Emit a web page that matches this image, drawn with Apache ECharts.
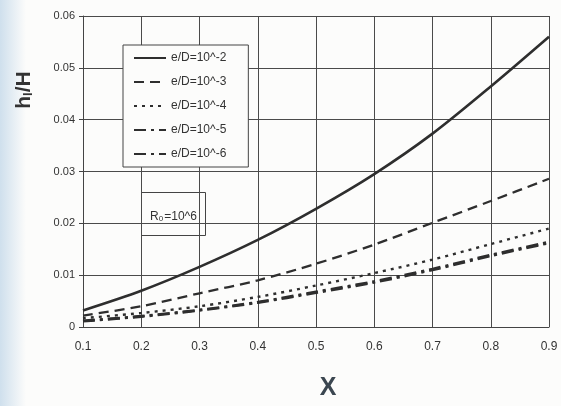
<!DOCTYPE html>
<html>
<head>
<meta charset="utf-8">
<script src="https://cdn.jsdelivr.net/npm/echarts@6/dist/echarts.min.js"></script>
<style>
  html, body { margin: 0; padding: 0; background: #fcfcfb; }
  #chart { width: 561px; height: 406px; }
</style>
</head>
<body>
<div id="chart"></div>
<script>
// Relative head loss h_l/H against X for several relative roughness values (Re = 10^6)
const xValues = [0.1, 0.2, 0.3, 0.4, 0.5, 0.6, 0.7, 0.8, 0.9];
const seriesNames = ['e/D=10^-2', 'e/D=10^-3', 'e/D=10^-4', 'e/D=10^-5', 'e/D=10^-6'];
const rough2 = [0.0032, 0.0070, 0.0116, 0.0168, 0.0228, 0.0295, 0.0373, 0.0464, 0.0560];
const rough3 = [0.0022, 0.0040, 0.0065, 0.0090, 0.0122, 0.0159, 0.0201, 0.0243, 0.0286];
const rough4 = [0.0017, 0.0027, 0.0040, 0.0058, 0.0080, 0.0104, 0.0130, 0.0160, 0.0190];
const rough5 = [0.0012, 0.0021, 0.0033, 0.0048, 0.0068, 0.0088, 0.0112, 0.0139, 0.0164];
const rough6 = [0.0011, 0.0020, 0.0032, 0.0047, 0.0066, 0.0086, 0.0110, 0.0137, 0.0162];
const yTicks = [0, 0.01, 0.02, 0.03, 0.04, 0.05, 0.06];
const reynoldsLabel = '{n|R}{s|0}{n|=10^6}';

const allValues = [rough2, rough3, rough4, rough5, rough6];
const dashStyles = ['solid', [10, 6], [3, 5], [12, 5, 3, 5], [12, 5, 3, 5]];
const widths = [2.6, 2.3, 2.4, 2.6, 2.6];
const ink = '#2e2e2e';
const font = 'Liberation Sans, Arial, sans-serif';

const chart = echarts.init(document.getElementById('chart'), null, { renderer: 'canvas' });

const series = seriesNames.map((name, i) => ({
  name: name,
  type: 'line',
  data: xValues.map((x, j) => [x, allValues[i][j]]),
  symbol: 'none',
  smooth: 0.3,
  lineStyle: { color: ink, width: widths[i], type: dashStyles[i] },
  itemStyle: { color: ink },
  z: 3
}));

chart.setOption({
  animation: false,
  backgroundColor: '#fcfcfb',
  textStyle: { fontFamily: font },
  grid: { left: 83, right: 12, top: 16, bottom: 79, containLabel: false },
  xAxis: {
    type: 'value',
    min: 0.1,
    max: 0.9,
    interval: 0.1,
    axisLine: { show: true, lineStyle: { color: '#444', width: 1 } },
    axisTick: { show: false },
    axisLabel: {
      color: '#333', fontSize: 12, margin: 14,
      formatter: v => v.toFixed(1)
    },
    splitLine: { show: true, lineStyle: { color: '#4a4a4a', width: 1 } }
  },
  yAxis: {
    type: 'value',
    min: yTicks[0],
    max: yTicks[yTicks.length - 1],
    interval: 0.01,
    axisLine: { show: true, lineStyle: { color: '#444', width: 1 } },
    axisTick: { show: true, length: 4, inside: false, lineStyle: { color: '#444' } },
    axisLabel: {
      color: '#333', fontSize: 11, margin: 8,
      formatter: v => (v === 0 ? '0' : v.toFixed(2))
    },
    splitLine: { show: true, lineStyle: { color: '#4a4a4a', width: 1 } }
  },
  legend: {
    orient: 'vertical',
    left: 123,
    top: 45,
    padding: [7, 22, 7, 10],
    itemGap: 12,
    itemWidth: 32,
    itemHeight: 14,
    backgroundColor: '#fcfcfb',
    borderColor: '#444',
    borderWidth: 1,
    itemStyle: { color: 'rgba(0,0,0,0)', borderColor: 'rgba(0,0,0,0)', borderWidth: 0 },
    textStyle: { color: '#333', fontSize: 12, fontFamily: font },
    data: seriesNames
  },
  series: series,
  graphic: [
    {
      type: 'rect',
      left: 0, top: 0, z: -10, silent: true,
      shape: { width: 26, height: 406 },
      style: {
        fill: new echarts.graphic.LinearGradient(0, 0, 1, 0, [
          { offset: 0, color: 'rgba(170,200,225,0.55)' },
          { offset: 1, color: 'rgba(170,200,225,0)' }
        ])
      }
    },
    {
      type: 'group',
      left: 141, top: 192, z: 10,
      children: [
        {
          type: 'rect',
          shape: { x: 0, y: 0, width: 64, height: 43 },
          style: { fill: '#fcfcfb', stroke: '#444', lineWidth: 1 }
        },
        {
          type: 'text',
          x: 32, y: 22,
          style: {
            text: reynoldsLabel,
            align: 'center',
            verticalAlign: 'middle',
            fill: '#333',
            rich: {
              n: { fontSize: 12, fill: '#333', fontFamily: font, lineHeight: 16, verticalAlign: 'bottom' },
              s: { fontSize: 8, fill: '#333', fontFamily: font, lineHeight: 12, verticalAlign: 'bottom', padding: [0, 1, 0, 0] }
            }
          }
        }
      ]
    },
    {
      type: 'text',
      x: 24, y: 90, rotation: Math.PI / 2,
      style: {
        text: '{h|h}{s|l}{h|/H}',
        align: 'center',
        verticalAlign: 'middle',
        fill: '#333',
        rich: {
          h: { fontSize: 21, fontWeight: 'bold', fill: '#333', fontFamily: font },
          s: { fontSize: 13, fontWeight: 'bold', fill: '#333', fontFamily: font, padding: [9, 0, 0, 0] }
        }
      }
    },
    {
      type: 'text',
      x: 328, y: 388,
      style: {
        text: 'X',
        align: 'center',
        verticalAlign: 'middle',
        fill: '#3b4650',
        fontSize: 25,
        fontWeight: 'bold',
        fontFamily: font
      }
    }
  ]
});
</script>
</body>
</html>
